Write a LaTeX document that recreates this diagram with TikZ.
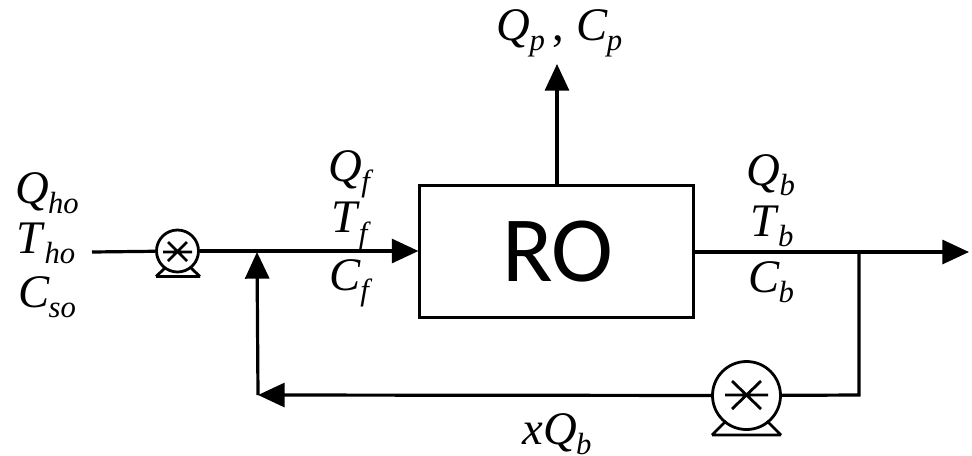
\documentclass[tikz,border=0pt]{standalone}
\usepackage{fontspec}
\setmainfont{Liberation Serif}
\newfontfamily\rofont{Carlito}
\usetikzlibrary{arrows.meta,calc}
\newcommand{\vsub}[2]{\textit{#1}\kern-0.02em\raisebox{-0.22em}{\fontsize{23}{23}\selectfont\textit{#2}}}
\tikzset{
  pipe/.style={line width=2.4pt,line cap=butt},
  flow/.style={pipe,-{Triangle[length=20pt,width=18pt]}},
  lab/.style={inner sep=0pt,font=\fontsize{35}{35}\selectfont,anchor=center},
  pumpsmall/.style={circle,draw,line width=2.1pt,minimum size=31.5pt,inner sep=0pt},
  pumpbig/.style={circle,draw,line width=2.1pt,minimum size=51pt,inner sep=0pt},
  sym/.style={line width=2.1pt},
}
\begin{document}
\begin{tikzpicture}[x=0.75pt,y=-0.75pt]
\useasboundingbox (0,0) rectangle (972,455);
\coordinate (in) at (92,252);
\coordinate (mix) at (257,252);
\coordinate (outEnd) at (969,252);
\coordinate (split) at (859,252);
\coordinate (corner) at (859,395);
\coordinate (ret) at (258,395);
\coordinate (topEnd) at (557,64);
\node[draw,line width=2.1pt,minimum width=205pt,minimum height=99.5pt,inner sep=0pt] (ro) at (556.5,251.5) {\fontsize{70}{70}\selectfont\kern2pt\rofont RO};
\node[pumpsmall] (p1) at (177.5,251) {};
\node[pumpbig] (p2) at (746.5,395.5) {};
\draw[sym] (163,252) -- (192,252) (168,242) -- (187,261) (168,261) -- (187,242);
\draw[sym] (725,395) -- (768,395) (732,381) -- (761,409) (732,409) -- (761,381);
\draw[sym] (156,276.5) -- (200,276.5) (156,276.5) -- (165,268) (200,276.5) -- (191,268);
\draw[sym] (712,435) -- (781,435) (712,435) -- (726,421) (781,435) -- (767,421);
\draw[pipe] (in) -- (p1);
\draw[flow] (p1) -- (ro.west |- p1);
\draw[flow] (ro.east |- split) -- (outEnd);
\draw[flow] (ro.north -| topEnd) -- (topEnd);
\draw[pipe] (split) -- (corner) -- (p2);
\draw[flow] (p2) -- (ret);
\draw[flow] (ret) -- (mix);
\node[lab] (l1) at (47,193) {\vsub{Q}{ho}};
\node[lab] (l2) at (46,243) {\vsub{T}{ho}};
\node[lab] (l3) at (47,297) {\vsub{C}{so}};
\node[lab] (l4) at (351,174) {\vsub{Q}{f}};
\node[lab] (l5) at (351,226) {\vsub{T}{f}};
\node[lab] (l6) at (351,283) {\vsub{C}{f}};
\node[lab] (l7) at (771,175) {\vsub{Q}{b}};
\node[lab] (l8) at (772,226) {\vsub{T}{b}};
\node[lab] (l9) at (771,282) {\vsub{C}{b}};
\node[lab] (l10) at (559.5,33) {\vsub{Q}{p}\,, \vsub{C}{p}};
\node[lab] (l11) at (557,434) {\textit{x}\vsub{Q}{b}};
\end{tikzpicture}
\end{document}
